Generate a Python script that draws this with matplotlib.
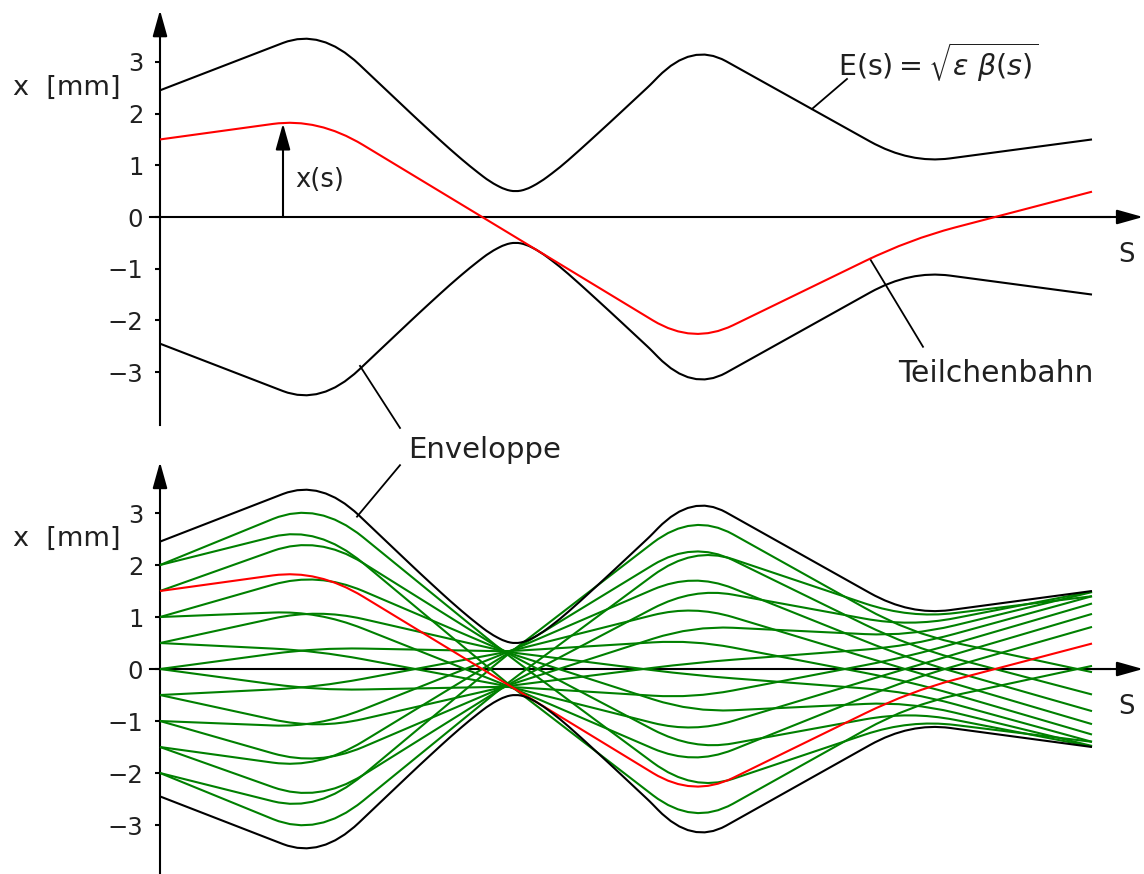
import matplotlib
matplotlib.use('Agg')
import matplotlib.pyplot as plt
from matplotlib.path import Path
from matplotlib.patches import PathPatch

plt.rcParams['font.family'] = ['DejaVu Sans']

# s positions of the kinks of every particle track (lens 1, waist, lens 2, lens 3)
s_track = [0.0, 1.58, 3.47, 5.33, 7.50, 9.32]

# green particle tracks: x [mm] at s=0, at each kink, and at the end
x_start = [2.00, 2.00, 1.50, 1.00, 1.00, 0.50, 0.50, 0.00, 0.00,
           -2.00, -2.00, -1.50, -1.50, -1.00, -1.00, -0.50, -0.50]
x_lens1 = [3.24, 2.76, 2.58, 1.87, 1.12, 1.16, 0.35, 0.41, -0.41,
           -3.24, -2.76, -2.58, -1.92, -1.87, -1.12, -1.16, -0.35]
x_waist = [0.28, -0.27, 0.31, 0.32, -0.32, 0.33, -0.33, 0.34, -0.34,
           -0.28, 0.27, -0.31, 0.29, -0.32, 0.32, -0.33, 0.33]
x_lens2 = [-2.37, -3.02, -1.57, -0.83, -1.86, -0.12, -1.23, 0.56, -0.56,
           2.37, 3.02, 1.57, 2.47, 0.83, 1.86, 0.12, 1.23]
x_lens3 = [-0.97, -0.69, -0.81, -0.63, -0.19, -0.44, 0.03, -0.24, 0.24,
           0.97, 0.69, 0.81, 0.43, 0.63, 0.19, 0.44, -0.03]
x_end = [-1.40, 0.06, -1.49, -1.48, 0.81, -1.40, 1.06, -1.26, 1.26,
         1.40, -0.06, 1.49, -0.49, 1.48, -0.81, 1.40, -1.06]

# the red track (Teilchenbahn)
red_track = [1.50, 1.92, -0.29, -2.47, -0.43, 0.49]

# envelope E(s)
s_env = [0.0, 1.61, 2.2, 2.6, 2.9, 3.1, 3.3, 3.45, 3.555, 3.66, 3.8, 4.0,
         4.2, 4.5, 4.9, 5.32, 7.50, 9.32]
env_upper = [2.45, 3.65, 2.57, 1.84, 1.31, 0.98, 0.68, 0.53, 0.49, 0.53, 0.67,
             0.96, 1.30, 1.83, 2.55, 3.38, 1.03, 1.50]
env_lower = [-2.45, -3.65, -2.57, -1.84, -1.31, -0.98, -0.68, -0.53, -0.49,
             -0.53, -0.67, -0.96, -1.30, -1.83, -2.55, -3.38, -1.03, -1.50]

yticks = [-3, -2, -1, 0, 1, 2, 3]
ytick_labels = ['\u22123', '\u22122', '\u22121', '0', '1', '2', '3']

# corner rounding (half width along s) - drawing style only
track_round = [0.45, 0.12, 0.40, 0.45]
env_round = [0.38, 0.10, 0.10, 0.09, 0.08, 0.07, 0.05, 0.05, 0.05,
             0.07, 0.08, 0.09, 0.10, 0.03, 0.34, 0.40]

GREEN = '#008000'
RED = '#ff0000'
TXT = '#202020'


def draw_track(ax, s, x, widths, **kw):
    verts = [(s[0], x[0])]
    codes = [Path.MOVETO]
    for i in range(1, len(s) - 1):
        d = widths[i - 1]
        k_in = (x[i] - x[i - 1]) / (s[i] - s[i - 1])
        k_out = (x[i + 1] - x[i]) / (s[i + 1] - s[i])
        verts += [(s[i] - d, x[i] - k_in * d), (s[i], x[i]),
                  (s[i] + d, x[i] + k_out * d)]
        codes += [Path.LINETO, Path.CURVE3, Path.CURVE3]
    verts.append((s[-1], x[-1]))
    codes.append(Path.LINETO)
    ax.add_patch(PathPatch(Path(verts, codes), fill=False,
                           capstyle='butt', joinstyle='round', **kw))


def arrow(ax, tip, tail):
    ax.annotate('', xy=tip, xytext=tail,
                arrowprops=dict(arrowstyle='-|>,head_length=1.0,head_width=0.28',
                                mutation_scale=16, color='k', lw=1.5,
                                shrinkA=0, shrinkB=0), annotation_clip=False)


def setup(ax, ylim, ybot, ytip):
    ax.set_xlim(-1.60, 9.84)
    ax.set_ylim(*ylim)
    ax.patch.set_visible(False)
    for side in ('top', 'right'):
        ax.spines[side].set_visible(False)
    ax.spines['left'].set_position(('data', 0))
    ax.spines['bottom'].set_position(('data', 0))
    ax.spines['left'].set_bounds(ybot, ytip - 0.3)
    ax.spines['bottom'].set_bounds(-0.10, 9.5)
    for sp in ('left', 'bottom'):
        ax.spines[sp].set_linewidth(1.5)
        ax.spines[sp].set_zorder(2)
    ax.set_xticks([])
    ax.set_yticks(yticks)
    ax.set_yticklabels(ytick_labels)
    ax.tick_params(axis='y', direction='out', length=3.6, width=1.5, pad=8.5,
                   labelsize=17.5, labelcolor=TXT)
    arrow(ax, (0, ytip), (0, ytip - 0.5))
    arrow(ax, (9.83, 0), (9.3, 0))
    ax.text(-0.93, 2.50, 'x  [mm]', fontsize=19.5, color=TXT,
            ha='center', va='center')
    ax.text(9.66, -0.74, 'S', fontsize=18.5, color=TXT, ha='center', va='center')


fig = plt.figure(figsize=(11.44, 8.74), dpi=100)
ax1 = fig.add_axes([0, 0.5, 1, 0.5])
ax2 = fig.add_axes([0, 0, 1, 0.5])

setup(ax1, (-4.255, 4.197), -4.02, 4.0)
setup(ax2, (-3.942, 4.462), -3.95, 3.98)

# top panel: envelope and one particle
draw_track(ax1, s_env, env_upper, env_round, color='k', lw=1.5, zorder=3)
draw_track(ax1, s_env, env_lower, env_round, color='k', lw=1.5, zorder=3)
draw_track(ax1, s_track, red_track, track_round, color=RED, lw=1.5, zorder=4)

arrow(ax1, (1.23, 1.81), (1.23, 0))
ax1.text(1.35, 0.72, 'x(s)', fontsize=18.5, color=TXT, va='center')
ax1.plot([6.52, 6.87], [2.09, 2.67], color='k', lw=1.3)
ax1.text(6.78, 3.0, r'E(s)$=\sqrt{\varepsilon\ \beta(s)}$', fontsize=20.5,
         color=TXT, va='center')
ax1.plot([7.10, 7.63], [-0.81, -2.51], color='k', lw=1.3)
ax1.text(7.38, -3.02, 'Teilchenbahn', fontsize=21.5, color=TXT, va='center')
ax1.plot([2.00, 2.40], [-2.88, -4.08], color='k', lw=1.3, clip_on=False)
ax1.text(2.48, -4.51, 'Enveloppe', fontsize=21, color=TXT, va='center')

# bottom panel: many particles inside the envelope
for i in range(len(x_start)):
    xs = [x_start[i], x_lens1[i], x_waist[i], x_lens2[i], x_lens3[i], x_end[i]]
    draw_track(ax2, s_track, xs, track_round, color=GREEN, lw=1.5, zorder=3)
draw_track(ax2, s_track, red_track, track_round, color=RED, lw=1.5, zorder=4)
draw_track(ax2, s_env, env_upper, env_round, color='k', lw=1.5, zorder=4)
draw_track(ax2, s_env, env_lower, env_round, color='k', lw=1.5, zorder=4)
ax2.plot([1.97, 2.40], [2.93, 3.92], color='k', lw=1.3, clip_on=False)

fig.savefig('out.png', dpi=100)
